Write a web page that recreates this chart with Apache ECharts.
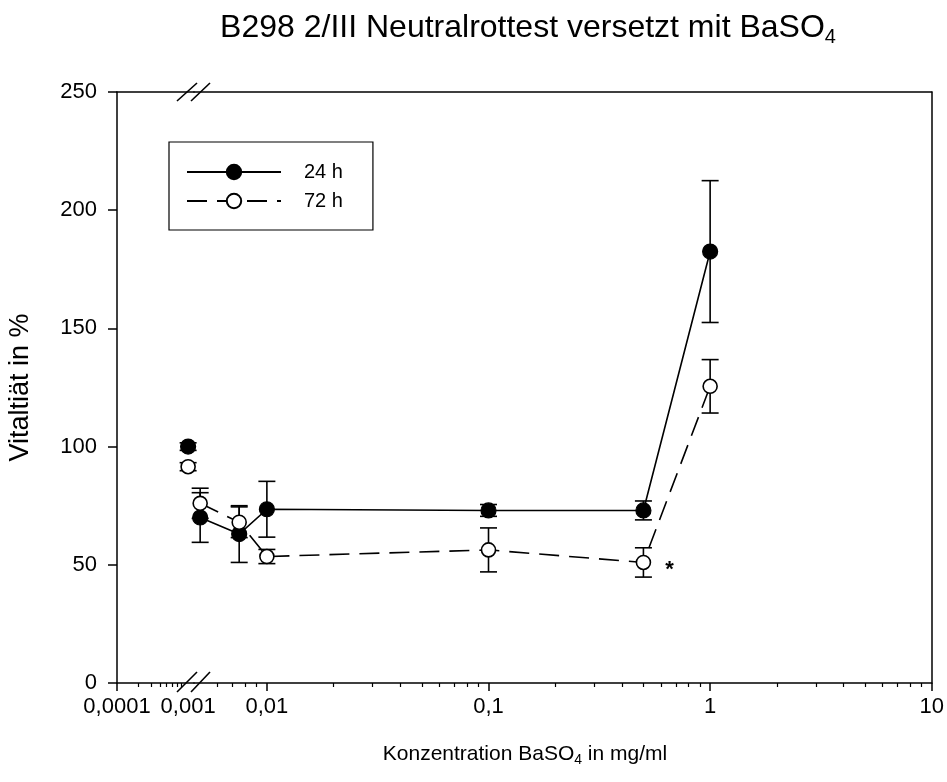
<!DOCTYPE html>
<html>
<head>
<meta charset="utf-8">
<script src="https://cdn.jsdelivr.net/npm/echarts@6/dist/echarts.min.js"></script>
<style>
  html, body { margin: 0; padding: 0; background: #fff; }
  #chart { width: 947px; height: 782px; }
</style>
</head>
<body>
<div id="chart"></div>
<script>
// control (left of the axis break)
const ctrlX = [0.001];
const ctrl24 = [100];
const ctrl24Err = [1.6];
const ctrl72 = [91.5];
const ctrl72Err = [1.7];

// concentrations BaSO4 in mg/ml
const conc = [0.005, 0.0075, 0.01, 0.1, 0.5, 1];
const v24 = [70, 63, 73.5, 73, 73, 182.5];
const e24 = [10.5, 12, 11.8, 2.5, 4, 30];
const v72 = [76, 68, 53.5, 56.3, 51, 125.5];
const e72 = [6.4, 6.5, 3, 9.3, 6.2, 11.3];

// axis ticks
const yTicks = [0, 50, 100, 150, 200, 250];
const leftMajor = [0.0001, 0.001];
const leftMinor = [0.0002, 0.0003, 0.0004, 0.0005, 0.0006, 0.0007, 0.0008];
const rightMajor = [0.01, 0.1, 1, 10];
const rightMinor = [0.006, 0.007, 0.008, 0.009,
  0.02, 0.03, 0.04, 0.05, 0.06, 0.07, 0.08, 0.09,
  0.2, 0.3, 0.4, 0.5, 0.6, 0.7, 0.8, 0.9,
  2, 3, 4, 5, 6, 7, 8, 9];

const FONT = 'Liberation Sans';
const fmt = v => String(+v.toPrecision(6)).replace('.', ',');

const chart = echarts.init(document.getElementById('chart'));

function pairs(xs, ys) {
  return xs.map((x, i) => [x, ys[i]]);
}
function errData(xs, ys, es) {
  return xs.map((x, i) => [x, ys[i] - es[i], ys[i] + es[i]]);
}
function errSeries(xi, data) {
  return {
    type: 'custom',
    xAxisIndex: xi, yAxisIndex: xi === 0 ? 0 : 1,
    z: 1,
    silent: true,
    data: data,
    renderItem(params, api) {
      const lo = api.coord([api.value(0), api.value(1)]);
      const hi = api.coord([api.value(0), api.value(2)]);
      const w = 8.5;
      const st = { stroke: '#000', lineWidth: 1.6 };
      return {
        type: 'group',
        children: [
          { type: 'line', shape: { x1: lo[0], y1: lo[1], x2: hi[0], y2: hi[1] }, style: st },
          { type: 'line', shape: { x1: lo[0] - w, y1: lo[1], x2: lo[0] + w, y2: lo[1] }, style: st },
          { type: 'line', shape: { x1: hi[0] - w, y1: hi[1], x2: hi[0] + w, y2: hi[1] }, style: st }
        ]
      };
    }
  };
}

const gTop = 92, gH = 591;
const axisLine = { show: true, lineStyle: { color: '#000', width: 1.5 } };

function xAxisSet(gi, min, max, major, minor) {
  return [
    { // major ticks + labels
      type: 'log', gridIndex: gi, min: min, max: max, position: 'bottom',
      axisLine: axisLine,
      axisTick: { show: true, length: 8, lineStyle: { color: '#000', width: 1.5 }, customValues: major.filter(v => v !== 0.001) },
      axisLabel: { customValues: major, formatter: fmt, fontFamily: FONT, fontSize: 22, color: '#000', margin: 13, showMinLabel: true, showMaxLabel: true },
      splitLine: { show: false }, minorTick: { show: false }
    },
    { // minor ticks
      type: 'log', gridIndex: gi, min: min, max: max, position: 'bottom',
      axisLine: { show: false },
      axisTick: { show: true, length: 4, lineStyle: { color: '#000', width: 1.2 }, customValues: minor },
      axisLabel: { show: false }, splitLine: { show: false }
    },
    { // top frame
      type: 'log', gridIndex: gi, min: min, max: max, position: 'top',
      axisLine: axisLine, axisTick: { show: false }, axisLabel: { show: false }, splitLine: { show: false }
    }
  ];
}

const filled = { color: '#000', borderColor: '#000', borderWidth: 1.2, opacity: 1 };
const open = { color: '#fff', borderColor: '#000', borderWidth: 1.6, opacity: 1 };

const option = {
  backgroundColor: '#fff',
  animation: false,
  title: {
    text: '{a|B298 2/III Neutralrottest versetzt mit BaSO}{s|4}',
    left: 523, top: 4, textAlign: 'center',
    textStyle: {
      rich: {
        a: { fontFamily: FONT, fontSize: 32, fontWeight: 'normal', color: '#000' },
        s: { fontFamily: FONT, fontSize: 20, fontWeight: 'normal', color: '#000', padding: [18, 0, 0, 0] }
      }
    }
  },
  grid: [
    { left: 117, top: gTop, width: 77, height: gH },
    { left: 194, top: gTop, width: 739, height: gH }
  ],
  legend: {
    orient: 'vertical',
    left: 169, top: 142,
    padding: [20, 30, 19, 17],
    itemGap: 9,
    itemWidth: 94, itemHeight: 18,
    borderColor: '#000', borderWidth: 1.2, borderRadius: 0,
    textStyle: { fontFamily: FONT, fontSize: 20, color: '#000', padding: [0, 0, 0, 18] },
    data: ['24 h', '72 h']
  },
  xAxis: [].concat(
    xAxisSet(0, 0.0001, 0.00121, leftMajor, leftMinor),
    xAxisSet(1, 0.00469, 10, rightMajor, rightMinor)
  ),
  yAxis: [
    {
      type: 'value', gridIndex: 0, min: 0, max: 250, interval: 50,
      name: 'Vitaltiät in %', nameLocation: 'middle', nameGap: 83,
      nameTextStyle: { fontFamily: FONT, fontSize: 27, color: '#000' },
      axisLine: axisLine,
      axisTick: { show: true, length: 9, lineStyle: { color: '#000', width: 1.5 } },
      axisLabel: { fontFamily: FONT, fontSize: 22, color: '#000', margin: 20 },
      splitLine: { show: false }
    },
    {
      type: 'value', gridIndex: 1, min: 0, max: 250, interval: 50, position: 'right',
      axisLine: axisLine, axisTick: { show: false }, axisLabel: { show: false },
      splitLine: { show: false }
    }
  ],
  graphic: [
    // axis break marks
    { type: 'line', shape: { x1: 177, y1: 692, x2: 197, y2: 672 }, style: { stroke: '#000', lineWidth: 1.6 } },
    { type: 'line', shape: { x1: 191, y1: 692, x2: 210, y2: 672 }, style: { stroke: '#000', lineWidth: 1.6 } },
    { type: 'line', shape: { x1: 177, y1: 101, x2: 197, y2: 83 }, style: { stroke: '#000', lineWidth: 1.6 } },
    { type: 'line', shape: { x1: 191, y1: 101, x2: 210, y2: 83 }, style: { stroke: '#000', lineWidth: 1.6 } },
    {
      type: 'text', x: 525, y: 741,
      style: {
        text: '{a|Konzentration BaSO}{s|4}{a| in mg/ml}',
        align: 'center', verticalAlign: 'top',
        rich: {
          a: { fontFamily: FONT, fontSize: 21, fill: '#000' },
          s: { fontFamily: FONT, fontSize: 14, fill: '#000', padding: [12, 0, 0, 0] }
        }
      }
    }
  ],
  series: [
    {
      name: '24 h', type: 'line', xAxisIndex: 3, yAxisIndex: 1, z: 3,
      data: pairs(conc, v24),
      symbol: 'circle', symbolSize: 15, showAllSymbol: true,
      itemStyle: filled,
      lineStyle: { color: '#000', width: 1.6 }
    },
    {
      name: '72 h', type: 'line', xAxisIndex: 3, yAxisIndex: 1, z: 3,
      data: pairs(conc, v72),
      symbol: 'circle', symbolSize: 14, showAllSymbol: true,
      itemStyle: open,
      lineStyle: { color: '#000', width: 1.6, type: [20, 10] },
      markPoint: {
        symbol: 'circle', symbolSize: 0,
        data: [{ coord: [conc[4], v72[4]], value: '*' }],
        label: { show: true, formatter: '*', fontFamily: FONT, fontSize: 22, fontWeight: 'bold', color: '#000', offset: [26, 8] }
      }
    },
    {
      name: '24 h', type: 'scatter', xAxisIndex: 0, yAxisIndex: 0, z: 3,
      data: pairs(ctrlX, ctrl24),
      symbol: 'circle', symbolSize: 15, itemStyle: filled
    },
    {
      name: '72 h', type: 'scatter', xAxisIndex: 0, yAxisIndex: 0, z: 3,
      data: pairs(ctrlX, ctrl72),
      symbol: 'circle', symbolSize: 14, itemStyle: open
    },
    errSeries(0, errData(ctrlX, ctrl24, ctrl24Err)),
    errSeries(0, errData(ctrlX, ctrl72, ctrl72Err)),
    errSeries(3, errData(conc, v24, e24)),
    errSeries(3, errData(conc, v72, e72))
  ]
};

chart.setOption(option);
</script>
</body>
</html>
